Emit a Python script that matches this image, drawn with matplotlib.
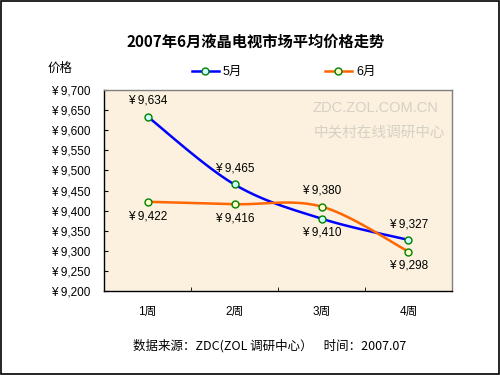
import numpy as np
import matplotlib
matplotlib.use("Agg")
import matplotlib.pyplot as plt
from matplotlib.patches import Rectangle
from matplotlib.lines import Line2D

plt.rcParams['font.family'] = ['Liberation Sans', 'Noto Sans CJK SC', 'DejaVu Sans']

title = "2007年6月液晶电视市场平均价格走势"
categories = ["1周", "2周", "3周", "4周"]
series_names = ["5月", "6月"]
may_values = [9634, 9465, 9380, 9327]
june_values = [9422, 9416, 9410, 9298]
y_ticks = [9200, 9250, 9300, 9350, 9400, 9450, 9500, 9550, 9600, 9650, 9700]
y_label = "价格"
footer = "数据来源：ZDC(ZOL 调研中心）    时间：2007.07"
watermark1 = "ZDC.ZOL.COM.CN"
watermark2 = "中关村在线调研中心"

colors = ["#0000FF", "#FF6600"]
faces = ["#CCFFFF", "#FFFFCC"]

def smooth(xs, ys, sx=87.0, sy=0.402, n=30):
    # Bezier smoothing in pixel-like space (Excel style)
    P = np.column_stack([np.asarray(xs, float) * sx, np.asarray(ys, float) * sy])
    out = []
    for i in range(len(P) - 1):
        p0 = P[i - 1] if i > 0 else P[i]
        p1 = P[i]
        p2 = P[i + 1]
        p3 = P[i + 2] if i + 2 < len(P) else P[i + 1]
        c1 = p1 + (p2 - p0) / 6.0
        c2 = p2 - (p3 - p1) / 6.0
        t = np.linspace(0, 1, n)[:, None]
        seg = (1 - t) ** 3 * p1 + 3 * (1 - t) ** 2 * t * c1 + 3 * (1 - t) * t ** 2 * c2 + t ** 3 * p2
        out.append(seg if i == 0 else seg[1:])
    out = np.vstack(out)
    return out[:, 0] / sx, out[:, 1] / sy

fig = plt.figure(figsize=(5, 3.75), dpi=100)
fig.patch.set_facecolor("white")
fig.patches.append(Rectangle((0.002, 0.003), 0.995, 0.994, transform=fig.transFigure,
                             fill=False, edgecolor="black", linewidth=1.2))

ax = fig.add_axes([0.208, 0.224, 0.696, 0.536])
ax.set_facecolor("#FBF1DE")
x = np.arange(len(categories))

for vals, c, fc in zip([may_values, june_values], colors, faces):
    sx, sy = smooth(x, vals)
    ax.plot(sx, sy, color=c, linewidth=1.8, zorder=3)
    ax.plot(x, vals, linestyle="none", marker="o", markersize=5,
            markerfacecolor=fc, markeredgecolor="#008000", markeredgewidth=1.0, zorder=4)

# data labels: first series above the higher point, second below the lower
for i in range(len(categories)):
    hi = max(may_values[i], june_values[i])
    lo = min(may_values[i], june_values[i])
    ax.annotate("¥ {:,}".format(may_values[i]), (x[i], hi), xytext=(0, 7),
                textcoords="offset points", ha="center", va="bottom", fontsize=8.5, zorder=5)
    ax.annotate("¥ {:,}".format(june_values[i]), (x[i], lo), xytext=(0, -6),
                textcoords="offset points", ha="center", va="top", fontsize=8.5, zorder=5)

ax.set_xlim(-0.5, len(categories) - 0.5)
ax.set_ylim(y_ticks[0], y_ticks[-1])
ax.set_yticks(y_ticks)
ax.set_yticklabels(["¥ {:,}".format(v) for v in y_ticks], fontsize=8.5)
ax.set_xticks(x)
ax.set_xticklabels(categories, fontsize=8.5)
ax.set_xticks(np.arange(len(categories) + 1) - 0.5, minor=True)
ax.tick_params(axis="x", which="major", length=0, pad=11)
ax.tick_params(axis="x", which="minor", direction="in", length=3, color="black")
ax.tick_params(axis="y", direction="in", length=3, pad=10)
for s in ["left", "bottom"]:
    ax.spines[s].set_color("black")
    ax.spines[s].set_linewidth(1.0)
for s in ["top", "right"]:
    ax.spines[s].set_color("#808080")
    ax.spines[s].set_linewidth(1.0)

# watermark
ax.text(0.96, 0.91, watermark1, transform=ax.transAxes, ha="right", va="center",
        fontsize=10.5, color="#D6D1C6", family=["Liberation Sans"], zorder=1)
ax.text(0.98, 0.79, watermark2, transform=ax.transAxes, ha="right", va="center",
        fontsize=10.5, color="#D6D1C6", family=["Noto Sans CJK SC"], zorder=1)

fig.text(0.512, 0.888, title, ha="center", va="center", fontsize=11, fontweight="bold",
         family=["Noto Sans CJK SC"])
fig.text(0.096, 0.818, y_label, ha="left", va="center", fontsize=9, family=["Noto Sans CJK SC"])

# legend
handles = [Line2D([], [], color=c, linewidth=1.8, marker="o", markersize=5,
                  markerfacecolor=fc, markeredgecolor="#008000") for c, fc in zip(colors, faces)]
leg = fig.legend(handles, series_names, loc="center", bbox_to_anchor=(0.567, 0.807), ncol=2,
                 frameon=False, handlelength=2.2, handletextpad=0.3, columnspacing=6.6,
                 prop={"family": ["Liberation Sans", "Noto Sans CJK SC"], "size": 9})

fig.text(0.54, 0.077, footer, ha="center", va="center", fontsize=9,
         family=["Noto Sans CJK SC", "DejaVu Sans"])

fig.savefig("out.png", dpi=100)
